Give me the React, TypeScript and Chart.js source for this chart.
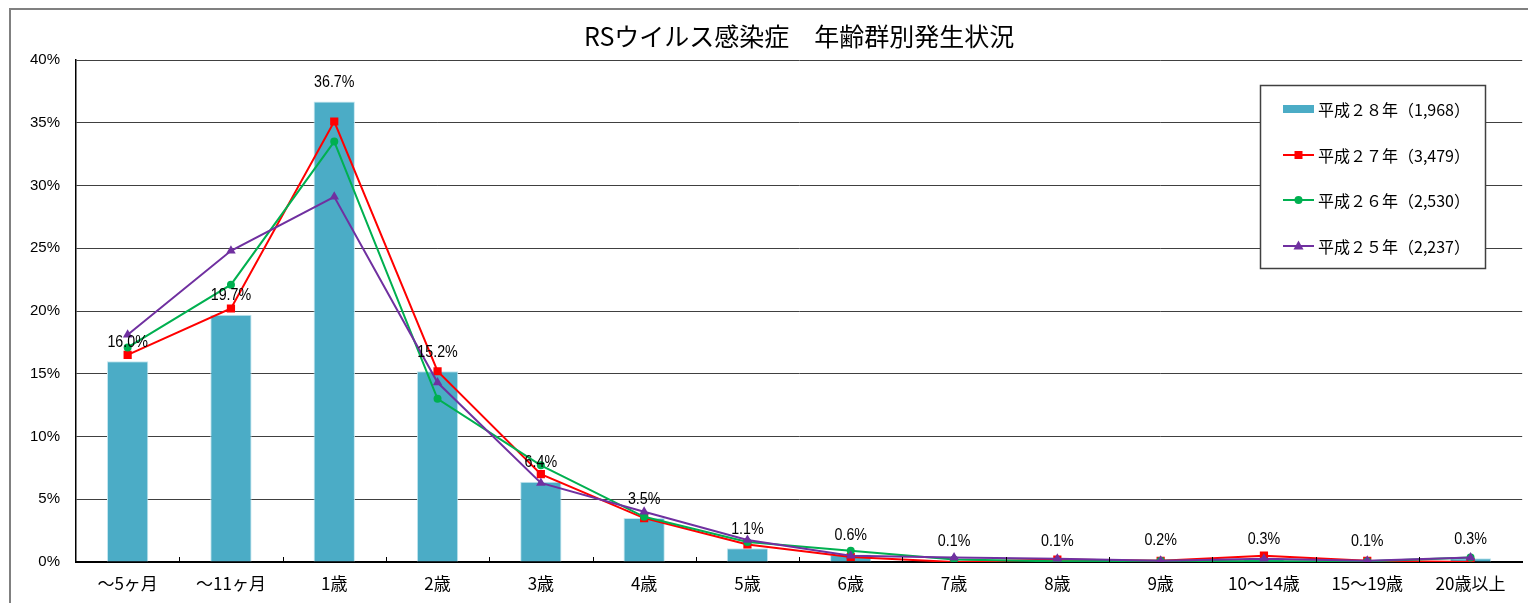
import React, { useEffect, useRef } from "react";
import { Chart, registerables } from "chart.js";

Chart.register(...registerables);

const categories = [
  "～5ヶ月", "～11ヶ月", "1歳", "2歳", "3歳", "4歳", "5歳", "6歳", "7歳", "8歳", "9歳", "10～14歳", "15～19歳", "20歳以上",
];
const h28 = [16.0, 19.7, 36.7, 15.2, 6.4, 3.5, 1.1, 0.6, 0.1, 0.1, 0.2, 0.3, 0.1, 0.3];
const h27 = [16.5, 20.2, 35.1, 15.2, 7.0, 3.5, 1.4, 0.4, 0.0, 0.2, 0.1, 0.5, 0.1, 0.0];
const h26 = [17.1, 22.1, 33.5, 13.0, 7.7, 3.6, 1.6, 0.9, 0.2, 0.05, 0.1, 0.05, 0.05, 0.35];
const h25 = [18.1, 24.8, 29.1, 14.3, 6.3, 4.0, 1.75, 0.5, 0.35, 0.25, 0.1, 0.25, 0.1, 0.35];
const seriesLabels = [
  "平成２８年（1,968）",
  "平成２７年（3,479）",
  "平成２６年（2,530）",
  "平成２５年（2,237）",
];
const yTicks = [0, 5, 10, 15, 20, 25, 30, 35, 40];
const title = "RSウイルス感染症　年齢群別発生状況";

const BAR = "#4BACC6";
const RED = "#FF0000";
const GREEN = "#00B050";
const PURPLE = "#7030A0";
const JP = '"Noto Sans CJK JP", "Liberation Sans", sans-serif';
const NUM = '"Liberation Sans", Arial, sans-serif';

function drawMarker(ctx: CanvasRenderingContext2D, style: string, x: number, y: number, color: string) {
  ctx.save();
  ctx.fillStyle = color;
  ctx.beginPath();
  if (style === "rect") {
    ctx.rect(x - 4, y - 4, 8, 8);
  } else if (style === "circle") {
    ctx.arc(x, y, 4, 0, Math.PI * 2);
  } else {
    ctx.moveTo(x, y - 5.5);
    ctx.lineTo(x + 5, y + 3.5);
    ctx.lineTo(x - 5, y + 3.5);
    ctx.closePath();
  }
  ctx.fill();
  ctx.restore();
}

const framePlugin = {
  id: "frame",
  beforeDraw(chart: any) {
    const ctx = chart.ctx as CanvasRenderingContext2D;
    ctx.save();
    ctx.fillStyle = "#ffffff";
    ctx.fillRect(0, 0, chart.width, chart.height);
    ctx.strokeStyle = "#808080";
    ctx.lineWidth = 2;
    ctx.beginPath();
    ctx.moveTo(10, chart.height + 2);
    ctx.lineTo(10, 9);
    ctx.lineTo(chart.width + 2, 9);
    ctx.stroke();
    ctx.restore();
  },
};

const extrasPlugin = {
  id: "extras",
  afterDatasetsDraw(chart: any) {
    const ctx = chart.ctx as CanvasRenderingContext2D;
    const xs = chart.scales.x;
    const area = chart.chartArea;
    // inner tick marks at category boundaries
    ctx.save();
    ctx.strokeStyle = "#000";
    ctx.lineWidth = 1;
    for (let i = 1; i < categories.length; i++) {
      const x = Math.round((xs.getPixelForTick(i - 1) + xs.getPixelForTick(i)) / 2) + 0.5;
      ctx.beginPath();
      ctx.moveTo(x, area.bottom);
      ctx.lineTo(x, area.bottom - 5);
      ctx.stroke();
    }
    ctx.restore();

    // data labels for bar series (narrow rendering)
    const meta = chart.getDatasetMeta(0);
    meta.data.forEach((el: any, i: number) => {
      ctx.save();
      ctx.fillStyle = "#000";
      ctx.font = "17px " + NUM;
      ctx.textAlign = "center";
      ctx.textBaseline = "middle";
      ctx.translate(el.x, el.y - 19);
      ctx.scale(0.84, 1);
      ctx.fillText(h28[i].toFixed(1) + "%", 0, 0);
      ctx.restore();
    });
  },
  afterDraw(chart: any) {
    const ctx = chart.ctx as CanvasRenderingContext2D;
    // legend box
    const bx = 1260, by = 85, bw = 225, bh = 183;
    ctx.save();
    ctx.fillStyle = "#fff";
    ctx.fillRect(bx, by, bw, bh);
    ctx.strokeStyle = "#404040";
    ctx.lineWidth = 1.5;
    ctx.strokeRect(bx + 0.5, by + 0.5, bw, bh);
    const rows = [109, 155, 200, 246];
    const colors = [BAR, RED, GREEN, PURPLE];
    const styles = ["bar", "rect", "circle", "triangle"];
    rows.forEach((y, i) => {
      if (styles[i] === "bar") {
        ctx.fillStyle = BAR;
        ctx.fillRect(1283, y - 4, 31, 8);
      } else {
        ctx.strokeStyle = colors[i];
        ctx.lineWidth = 2;
        ctx.beginPath();
        ctx.moveTo(1283, y);
        ctx.lineTo(1314, y);
        ctx.stroke();
        drawMarker(ctx, styles[i], 1298.5, y, colors[i]);
      }
      ctx.fillStyle = "#000";
      ctx.font = "16px " + JP;
      ctx.textAlign = "left";
      ctx.textBaseline = "middle";
      ctx.fillText(seriesLabels[i], 1318, y + 1);
    });
    ctx.restore();
  },
};

export default function App() {
  const ref = useRef<HTMLCanvasElement | null>(null);

  useEffect(() => {
    if (!ref.current) return;
    const lineDs = (label: string, data: number[], color: string, style: any, radius: number, order: number) => ({
      type: "line" as const,
      label,
      data,
      borderColor: color,
      backgroundColor: color,
      borderWidth: 2,
      pointStyle: style,
      pointRadius: radius,
      pointBorderWidth: 0,
      pointBackgroundColor: color,
      tension: 0,
      order,
    });
    const chart = new Chart(ref.current, {
      type: "bar",
      data: {
        labels: categories,
        datasets: [
          {
            type: "bar" as const,
            label: seriesLabels[0],
            data: h28,
            backgroundColor: BAR,
            borderColor: "#c5e6ef",
            borderWidth: 1,
            barPercentage: 0.4,
            categoryPercentage: 1,
            order: 10,
          },
          lineDs(seriesLabels[1], h27, RED, "rect", 5.8, 3),
          lineDs(seriesLabels[2], h26, GREEN, "circle", 4, 2),
          lineDs(seriesLabels[3], h25, PURPLE, "triangle", 5.5, 1),
        ] as any,
      },
      options: {
        animation: false,
        responsive: false,
        maintainAspectRatio: false,
        layout: { padding: { left: 0, right: 1, top: 0, bottom: 0 } },
        plugins: {
          legend: { display: false },
          tooltip: { enabled: false },
          title: {
            display: true,
            text: title,
            fullSize: false,
            color: "#000",
            font: { family: JP, size: 25, weight: "normal", lineHeight: 1.2 },
            padding: { top: 21, bottom: 9 },
          },
        },
        scales: {
          x: {
            offset: true,
            grid: { display: false, drawTicks: false },
            border: { display: true, color: "#000", width: 2 },
            ticks: {
              color: "#000",
              font: { family: JP, size: 17 },
              padding: 11,
              maxRotation: 0,
              autoSkip: false,
            },
            afterFit: (s: any) => {
              s.height = 41;
            },
          },
          y: {
            min: 0,
            max: 40,
            afterBuildTicks: (s: any) => {
              s.ticks = yTicks.map((v) => ({ value: v }));
            },
            grid: { color: "#404040", lineWidth: 1, drawTicks: false },
            border: { display: true, color: "#000", width: 1.5 },
            ticks: {
              color: "#000",
              font: { family: NUM, size: 15 },
              padding: 16,
              callback: (v: any) => v + "%",
            },
            afterFit: (s: any) => {
              s.width = 76;
            },
          },
        },
      },
      plugins: [framePlugin, extrasPlugin],
    });
    return () => chart.destroy();
  }, []);

  return (
    <div style={{ position: "fixed", left: 0, top: 0, width: 1528, height: 603, overflow: "hidden", background: "#fff" }}>
      <canvas ref={ref} width={1528} height={603} style={{ display: "block" }} />
    </div>
  );
}
